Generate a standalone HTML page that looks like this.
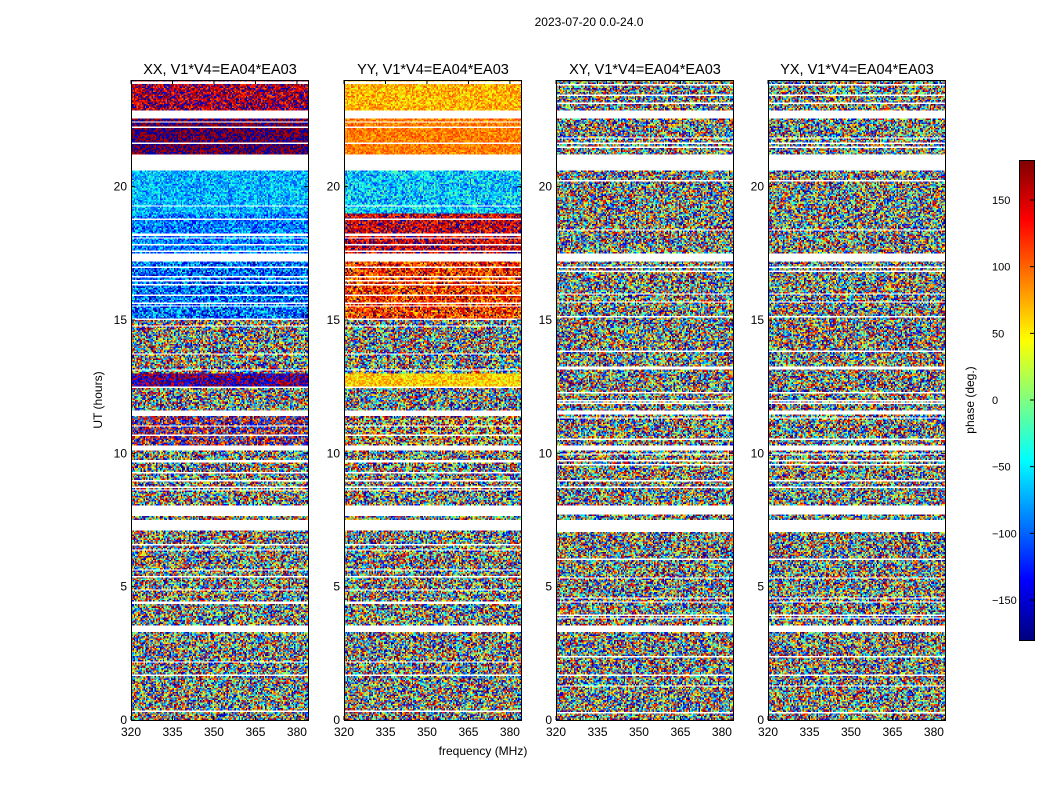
<!DOCTYPE html>
<html><head><meta charset="utf-8">
<style>
body{margin:0;background:#fff;width:1050px;height:800px;overflow:hidden;position:relative;font-family:"Liberation Sans",sans-serif}
canvas{position:absolute;image-rendering:pixelated}
svg{position:absolute;left:0;top:0}
</style></head><body>
<canvas id="c0" width="128" height="480" style="left:131px;top:80px;width:177px;height:640px"></canvas>
<canvas id="c1" width="128" height="480" style="left:344px;top:80px;width:177px;height:640px"></canvas>
<canvas id="c2" width="128" height="480" style="left:556px;top:80px;width:177px;height:640px"></canvas>
<canvas id="c3" width="128" height="480" style="left:768px;top:80px;width:177px;height:640px"></canvas>
<canvas id="cb" width="1" height="240" style="left:1019px;top:160px;width:15px;height:480px"></canvas>
<svg id="ax" width="1050" height="800"></svg>
<script>
// data
const panelTitles=["XX, V1*V4=EA04*EA03","YY, V1*V4=EA04*EA03","XY, V1*V4=EA04*EA03","YX, V1*V4=EA04*EA03"];
const segStart=[0,3.55,7.5,8.05,10.3,11.6,12.5,13.0,15.0,17.5,19.0,21.2,22.87];
const segEnd=[3.3,7.1,7.7,10.1,11.45,12.5,13.0,15.0,17.2,19.0,20.6,22.57,24];
const meanXX=[0,0,0,0,170,0,-170,0,-100,-90,-70,180,160];
const spreadXX=[180,180,180,180,120,180,60,180,80,60,50,25,60];
const meanYY=[0,0,0,0,90,0,60,0,120,150,-60,90,70];
const spreadYY=[180,180,180,180,150,180,40,180,70,60,60,30,40];
const meanXY=[0,0,0,0,0,0,0,0,0,0,0,0,0];
const spreadXY=[180,180,180,180,180,180,180,180,180,180,180,180,180];
const meanYX=meanXY, spreadYX=spreadXY;
const xTicks=[320,335,350,365,380];
const yTicks=[0,5,10,15,20];
const cbTicks=[-150,-100,-50,0,50,100,150];
const means=[meanXX,meanYY,meanXY,meanYX], spreads=[spreadXX,spreadYY,spreadXY,spreadYX];

function jet(v){
 const r=Math.min(Math.max(Math.min(4*v-1.5,-4*v+4.5),0),1);
 const g=Math.min(Math.max(Math.min(4*v-0.5,-4*v+3.5),0),1);
 const b=Math.min(Math.max(Math.min(4*v+0.5,-4*v+2.5),0),1);
 return [r*255|0,g*255|0,b*255|0];
}
function h(a,b){let x=(a*374761393+b*668265263)|0;x=(x^(x>>>13))*1274126177|0;return ((x^(x>>>16))>>>0)/4294967296;}
const NR=480,NC=128;
for(let p=0;p<4;p++){
 const ctx=document.getElementById('c'+p).getContext('2d');
 const img=ctx.createImageData(NC,NR);
 for(let row=0;row<NR;row++){
  const hr=(NR-1-row+0.5)*24/NR;
  let s=-1;for(let k=0;k<segStart.length;k++)if(hr>=segStart[k]&&hr<segEnd[k])s=k;
  const white=s<0||h(row,p>1?7:5)<0.09;
  for(let c=0;c<NC;c++){
   const i=(row*NC+c)*4;
   if(white){img.data[i]=img.data[i+1]=img.data[i+2]=255;img.data[i+3]=255;continue;}
   let v=means[p][s]+spreads[p][s]*(2*h(row*197+c,p+11)-1);
   v=((v+180)%360+360)%360-180;
   const col=jet((v+180)/360);
   img.data[i]=col[0];img.data[i+1]=col[1];img.data[i+2]=col[2];img.data[i+3]=255;
  }
 }
 ctx.putImageData(img,0,0);
}
{const ctx=document.getElementById('cb').getContext('2d');const img=ctx.createImageData(1,240);
 for(let r=0;r<240;r++){const col=jet(1-(r+0.5)/240);img.data[r*4]=col[0];img.data[r*4+1]=col[1];img.data[r*4+2]=col[2];img.data[r*4+3]=255;}
 ctx.putImageData(img,0,0);}

const svg=document.getElementById('ax');const NS='http://www.w3.org/2000/svg';
function el(t,a,txt){const e=document.createElementNS(NS,t);for(const k in a)e.setAttribute(k,a[k]);if(txt!==undefined)e.textContent=txt;svg.appendChild(e);return e;}
const lefts=[131,344,556,768];
const xMap=(L,f)=>L+(f-320)*177/64;
const yMap=hr=>720-hr*640/24;
for(let p=0;p<4;p++){
 const L=lefts[p];
 const fr=el('rect',{x:L+0.5,y:80.5,width:177,height:640,fill:'none',stroke:'#000'});
 
 
 const t=el('text',{x:L+89,y:74,'font-size':14.5,'text-anchor':'middle'},panelTitles[p]);
 
 
 xTicks.forEach(f=>{const x=xMap(L,f);
  el('line',{x1:x,x2:x,y1:720,y2:716,stroke:'#000'});el('line',{x1:x,x2:x,y1:80,y2:84,stroke:'#000'});
  const tl=el('text',{x:x,y:736,'font-size':12,'text-anchor':'middle'},f);
  
  });
 yTicks.forEach(v=>{const y=yMap(v);
  el('line',{x1:L,x2:L+4,y1:y,y2:y,stroke:'#000'});el('line',{x1:L+177,x2:L+173,y1:y,y2:y,stroke:'#000'});
  const tl=el('text',{x:L-4,y:y+4,'font-size':12,'text-anchor':'end'},v);
  
  });
}
const st=el('text',{x:589,y:26,'font-size':12,'text-anchor':'middle'},'2023-07-20 0.0-24.0');

const xl=el('text',{x:483,y:755,'font-size':12,'text-anchor':'middle'},'frequency (MHz)');

const yl=el('text',{x:102,y:400,'font-size':12,'text-anchor':'middle',transform:'rotate(-90 102 400)'},'UT (hours)');

el('rect',{x:1019.5,y:160.5,width:15,height:480,fill:'none',stroke:'#000'});
cbTicks.forEach(v=>{const y=160+(180-v)*480/360;
 el('line',{x1:1034,x2:1030,y1:y,y2:y,stroke:'#000'});
 const tl=el('text',{x:992,y:y+4,'font-size':11,'text-anchor':'start'},v<0?'\u2212'+(-v):v);
 });
const cl=el('text',{x:974,y:400,'font-size':12,'text-anchor':'middle',transform:'rotate(-90 974 400)'},'phase (deg.)');

</script>
</body></html>
